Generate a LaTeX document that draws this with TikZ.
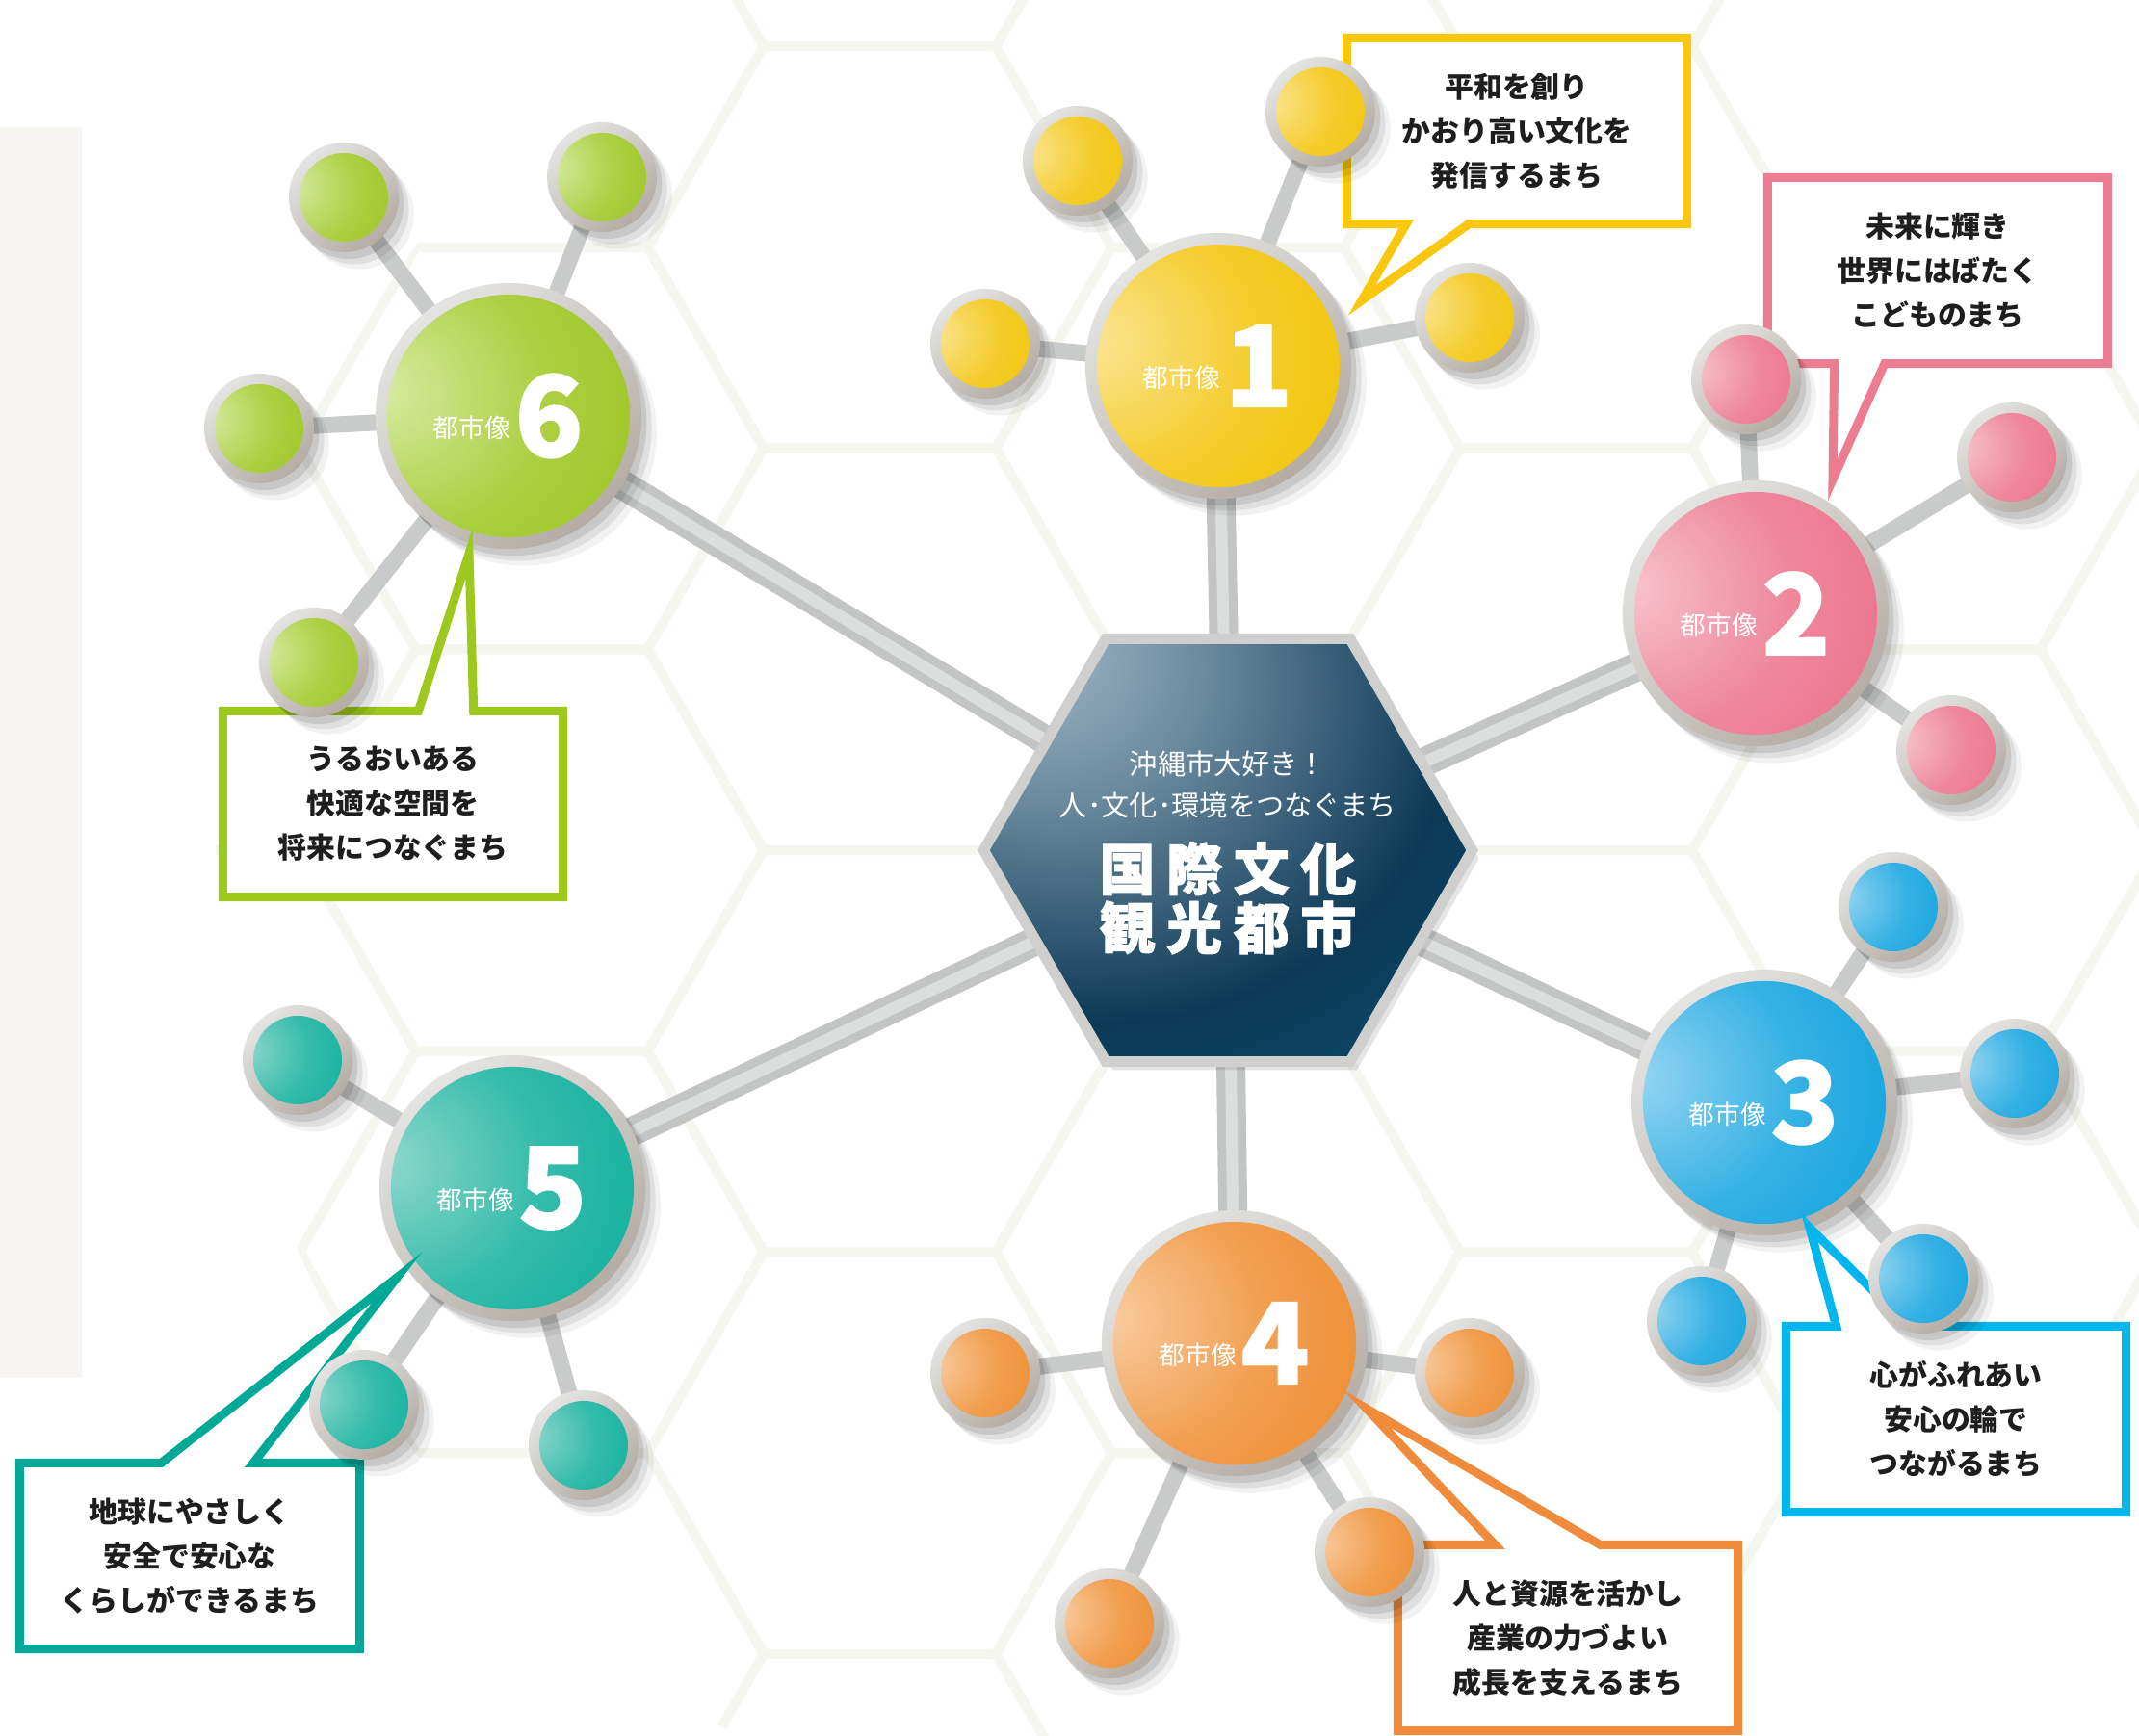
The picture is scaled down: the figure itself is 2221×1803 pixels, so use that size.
\documentclass[tikz,border=0pt]{standalone}
\usepackage{fontspec}
\newfontfamily\jp{Noto Sans CJK JP}
\newfontfamily\jpheavy{Noto Sans CJK JP}[BoldFeatures={FakeBold=1.6}]
\usetikzlibrary{positioning}
\usetikzlibrary{calc}
\usetikzlibrary{shapes.geometric}
\usetikzlibrary{shadows}

\definecolor{yel}{HTML}{F1C200}
\definecolor{yelhi}{HTML}{FBE596}
\definecolor{pnk}{HTML}{EB6D87}
\definecolor{pnkhi}{HTML}{F7C5CF}
\definecolor{blu}{HTML}{0AA1DE}
\definecolor{bluhi}{HTML}{98D6F2}
\definecolor{org}{HTML}{EE8A2B}
\definecolor{orghi}{HTML}{F9CDA2}
\definecolor{tea}{HTML}{0AAE9B}
\definecolor{teahi}{HTML}{90D8CD}
\definecolor{grn}{HTML}{9BC31B}
\definecolor{grnhi}{HTML}{D9EBA4}
\definecolor{lineyel}{HTML}{F9C80E}
\definecolor{linepnk}{HTML}{EC7D91}
\definecolor{lineblu}{HTML}{00B6EC}
\definecolor{lineorg}{HTML}{EF8B3B}
\definecolor{linetea}{HTML}{00A997}
\definecolor{linegrn}{HTML}{9DC81E}
\definecolor{ringlite}{HTML}{E4E4E2}
\definecolor{ringdark}{HTML}{B4ACA5}
\definecolor{hexhi}{HTML}{A9BECC}
\definecolor{hexmid}{HTML}{0C3956}
\definecolor{hexlo}{HTML}{0A5C7E}
\definecolor{hexring}{HTML}{CFCFCE}
\definecolor{spokeout}{HTML}{C3C5C4}
\definecolor{spokein}{HTML}{DCDEDD}
\definecolor{twiggrey}{HTML}{C9CBCA}
\definecolor{gridgrey}{HTML}{F6F6F1}
\definecolor{stripgrey}{HTML}{F6F5F1}
\definecolor{ink}{HTML}{1E1E1E}

\pgfdeclarelayer{back}
\pgfdeclarelayer{links}
\pgfsetlayers{back,links,main}

\colorlet{ballbase}{gray}
\colorlet{ballhi}{white}
\pgfdeclareradialshading[ballhi,ballbase]{glossy}{\pgfpoint{-16bp}{20bp}}{%
  color(0bp)=(ballhi); color(24bp)=(ballbase!70!ballhi); color(46bp)=(ballbase); color(80bp)=(ballbase!90!ballhi)}
\pgfdeclareradialshading{hexglow}{\pgfpoint{-22bp}{26bp}}{%
  color(0bp)=(hexhi); color(16bp)=(hexhi!60!hexmid); color(36bp)=(hexmid); color(62bp)=(hexlo); color(90bp)=(hexlo)}

\tikzset{
  hue/.style={/utils/exec={\colorlet{ballbase}{#1}\colorlet{ballhi}{#1hi}}},
  ring/.style={circle, inner sep=0pt, outer sep=0pt, top color=ringlite, bottom color=ringdark, shading angle=40,
    drop shadow={shadow xshift=1.5pt, shadow yshift=-2pt, opacity=.10, fill=black},
    drop shadow={shadow xshift=3pt, shadow yshift=-3.5pt, opacity=.08, fill=black},
    drop shadow={shadow xshift=4.5pt, shadow yshift=-5pt, opacity=.05, fill=black}},
  bigball/.style={ring, hue=#1, minimum size=2.76cm,
    path picture={\shade[shading=glossy] (path picture bounding box.center) circle[radius=1.26cm];}},
  bead/.style={ring, hue=#1, minimum size=1.14cm,
    path picture={\shade[shading=glossy] (path picture bounding box.center) circle[radius=0.46cm];}},
  hexcore/.style={regular polygon, regular polygon sides=6, minimum size=5.07cm, inner sep=0pt,
    shading=hexglow, draw=hexring, line width=0.11cm,
    drop shadow={shadow xshift=2pt, shadow yshift=-2.5pt, opacity=.10, fill=black}},
  motto/.style={font=\jp\fontsize{8.3}{12.2}\selectfont, text=white, align=center},
  title/.style={font=\jpheavy\bfseries\fontsize{16.5}{17.4}\selectfont, text=white, align=center},
  tag/.style={font=\jp\fontsize{7.6}{8}\selectfont, text=white, inner sep=0pt},
  numeral/.style={font=\jpheavy\bfseries\fontsize{33}{33}\selectfont, text=white, inner sep=0pt},
  note/.style={fill=white, minimum width=3.53cm, minimum height=1.93cm, inner sep=0pt, outer sep=0pt,
    align=center, font=\jp\bfseries\fontsize{8.5}{13.1}\selectfont, text=ink},
  frame/.style={draw=#1, line width=0.09cm, line join=miter},
  spoke/.style={draw=spokeout, line width=0.09cm, double=spokein, double distance=0.12cm},
  twig/.style={draw=twiggrey, line width=0.17cm},
  gridline/.style={draw=gridgrey, line width=0.1cm},
}

\begin{document}
\begin{tikzpicture}[x=0.01cm, y=-0.01cm]
    \useasboundingbox (0,0) rectangle (2221,1803);

    % background: strip and faint hex grid
    \begin{pgfonlayer}{back}
        \fill[white] (0,0) rectangle (2221,1803);
        \fill[stripgrey] (0,132) rectangle (85,1431);
        \begin{scope}
            \clip (1275,883) circle[radius=10.5cm];
            \foreach \i in {-4,...,3}
                \foreach \j in {-5,...,5} {
                    \pgfmathsetmacro\gx{1275+361.5*\i}
                    \pgfmathsetmacro\gy{883+417.4*(\j+0.5*\i)}
                    \draw[gridline] (\gx,\gy) +(0:241) -- +(60:241) -- +(120:241) -- +(180:241) -- +(240:241) -- +(300:241) -- cycle;
                }
        \end{scope}
    \end{pgfonlayer}

    % hub
    \node[hexcore] (hub) at (1275,883) {};
    \node[motto] (motto) at ($(hub.center) + (0,-68)$) {沖縄市大好き！\\人･文化･環境をつなぐまち};
    \node[title] (title) at ($(hub.center) + (0,50)$) {国\kern.2em 際\kern.2em 文\kern.2em 化\\観\kern.2em 光\kern.2em 都\kern.2em 市};

    % city images
    \node[bigball=yel] (city1) at (1265,380) {};
    \node[bigball=pnk] (city2) at (1823,637) {};
    \node[bigball=blu] (city3) at (1832,1145) {};
    \node[bigball=org] (city4) at (1282,1395) {};
    \node[bigball=tea] (city5) at (532,1234) {};
    \node[bigball=grn] (city6) at (528,432) {};

    \foreach \k in {1,...,6} {
        \node[tag] (tag\k) at ($(city\k.center) + (-38,12)$) {都市像};
        \node[numeral] (num\k) at ($(city\k.center) + (42,0)$) {\k};
    }

    % callouts
    \node[note] (note1) at (1575,136) {平和を創り\\かおり高い文化を\\発信するまち};
    \coordinate (tip1) at (1414,312);
    \draw[frame=lineyel] (note1.south west) |- (note1.north east) |- ($(note1.south west)!.359!(note1.south east)$) -- (tip1) -- ($(note1.south west)!.175!(note1.south east)$) -- cycle;

    \node[note] (note2) at (2012,281) {未来に輝き\\世界にはばたく\\こどものまち};
    \coordinate (tip2) at (1903,498);
    \draw[frame=linepnk] (note2.south west) |- (note2.north east) |- ($(note2.south west)!.344!(note2.south east)$) -- (tip2) -- ($(note2.south west)!.196!(note2.south east)$) -- cycle;

    \node[note] (note3) at (2031,1474) {心がふれあい\\安心の輪で\\つながるまち};
    \coordinate (tip3) at (1879,1275);
    \draw[frame=lineblu] (note3.south west) |- ($(note3.north west)!.148!(note3.north east)$) -- (tip3) -- ($(note3.north west)!.361!(note3.north east)$) -| (note3.south east) -- cycle;

    \node[note] (note4) at (1628,1701) {人と資源を活かし\\産業の力づよい\\成長を支えるまち};
    \coordinate (tip4) at (1419,1463);
    \draw[frame=lineorg] (note4.south west) |- ($(note4.north west)!.286!(note4.north east)$) -- (tip4) -- ($(note4.north west)!.595!(note4.north east)$) -| (note4.south east) -- cycle;

    \node[note] (note5) at (197,1616) {地球にやさしく\\安全で安心な\\くらしができるまち};
    \coordinate (tip5) at (412,1327);
    \draw[frame=linetea] (note5.south west) |- ($(note5.north west)!.416!(note5.north east)$) -- (tip5) -- ($(note5.north west)!.687!(note5.north east)$) -| (note5.south east) -- cycle;

    \node[note] (note6) at (408,835) {うるおいある\\快適な空間を\\将来につなぐまち};
    \coordinate (tip6) at (487,575);
    \draw[frame=linegrn] (note6.south west) |- ($(note6.north west)!.575!(note6.north east)$) -- (tip6) -- ($(note6.north west)!.737!(note6.north east)$) -| (note6.south east) -- cycle;

    % small balls
    \node[bead=yel] (s11) at (1119,167) {};
    \node[bead=yel] (s12) at (1371,116) {};
    \node[bead=yel] (s13) at (1023,357) {};
    \node[bead=yel] (s14) at (1526,330) {};
    \node[bead=pnk] (s21) at (1813,394) {};
    \node[bead=pnk] (s22) at (2089,475) {};
    \node[bead=pnk] (s23) at (2026,779) {};
    \node[bead=blu] (s31) at (1966,942) {};
    \node[bead=blu] (s32) at (2092,1115) {};
    \node[bead=blu] (s33) at (1997,1328) {};
    \node[bead=blu] (s34) at (1767,1372) {};
    \node[bead=org] (s41) at (1023,1426) {};
    \node[bead=org] (s42) at (1526,1426) {};
    \node[bead=org] (s43) at (1422,1612) {};
    \node[bead=org] (s44) at (1152,1686) {};
    \node[bead=tea] (s51) at (309,1101) {};
    \node[bead=tea] (s52) at (378,1459) {};
    \node[bead=tea] (s53) at (606,1501) {};
    \node[bead=grn] (s61) at (357,205) {};
    \node[bead=grn] (s62) at (625,184) {};
    \node[bead=grn] (s63) at (269,445) {};
    \node[bead=grn] (s64) at (326,688) {};

    % links
    \begin{pgfonlayer}{links}
        \foreach \k in {1,...,6}
            \draw[spoke] (hub.center) -- (city\k.center);
        \foreach \a/\b in {1/11,1/12,1/13,1/14,2/21,2/22,2/23,3/31,3/32,3/33,3/34,4/41,4/42,4/43,4/44,5/51,5/52,5/53,6/61,6/62,6/63,6/64}
            \draw[twig] (city\a.center) -- (s\b.center);
    \end{pgfonlayer}
\end{tikzpicture}
\end{document}
